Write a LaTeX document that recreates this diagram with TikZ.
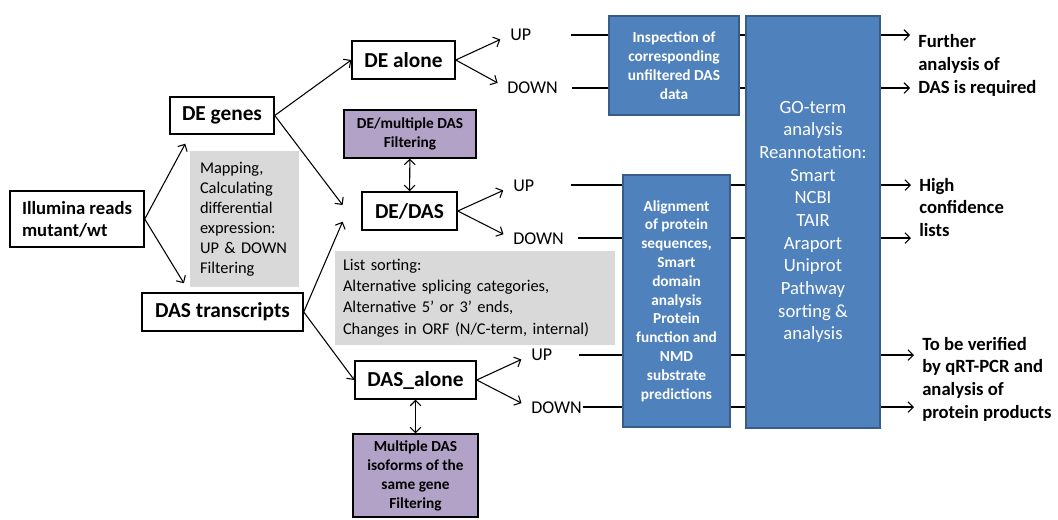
\documentclass[tikz,border=0pt]{standalone}
\usepackage{fontspec}
\setmainfont{Carlito}
\usetikzlibrary{arrows.meta, positioning, calc}
\definecolor{boxblue}{HTML}{4F81BD}
\definecolor{boxblueline}{HTML}{385D8A}
\definecolor{boxpurple}{HTML}{B3A2C7}
\definecolor{boxgray}{HTML}{D9D9D9}

\begin{document}
\begin{tikzpicture}[x=0.75pt, y=-0.75pt, >={Straight Barb[length=4pt,width=8pt]},
    every node/.style={inner sep=0pt},
    whitebox/.style={draw, line width=1.1pt, fill=white, align=center, font=\fontsize{16}{19}\selectfont\bfseries},
    purplebox/.style={draw, line width=1pt, fill=boxpurple, align=center, font=\fontsize{11.5}{14.2}\selectfont\bfseries},
    graybox/.style={fill=boxgray, align=left, font=\fontsize{12.3}{15}\selectfont},
    bluebox/.style={draw=boxblueline, line width=1.5pt, fill=boxblue, text=white, align=center},
    updown/.style={anchor=west, font=\fontsize{13.5}{16}\selectfont},
    result/.style={anchor=west, align=left, font=\fontsize{14}{17}\selectfont\bfseries},
    arr/.style={->, line width=0.8pt},
    link/.style={line width=0.8pt}]

        \useasboundingbox (0,0) rectangle (1058,519);

        % Nodes
        \node (ill) [whitebox, align=left, font=\fontsize{14}{16.5}\selectfont\bfseries,
            minimum width=100.5pt, minimum height=42pt] at (77,219) {Illumina reads\\mutant/wt};
        \node (deg) [whitebox, minimum width=78pt, minimum height=27.75pt] at (222,115.5) {DE genes};
        \node (map) [graybox, text width=66.75pt, inner xsep=7.5pt, minimum height=102pt] at (244.5,219)
            {Mapping,\\Calculating\\differential\\expression:\\UP \& DOWN\\Filtering};
        \node (dast) [whitebox, minimum width=120.75pt, minimum height=28.5pt] at (222.5,312) {DAS transcripts};

        \node (dea) [whitebox, minimum width=77.25pt, minimum height=28.5pt] at (403.5,60) {DE alone};
        \node (pur1) [purplebox, minimum width=99pt, minimum height=36pt] at (410,134) {DE/multiple DAS\\Filtering};
        \node (dedas) [whitebox, minimum width=71.25pt, minimum height=28.5pt] at (409.5,211) {DE/DAS};
        \node (list) [graybox, font=\fontsize{12.3}{15.9}\selectfont, text width=198pt, inner xsep=6pt,
            minimum height=70.5pt] at (475,298)
            {List sorting:\\Alternative splicing categories,\\Alternative 5’ or 3’ ends,\\Changes in ORF (N/C-term, internal)};
        \node (dasa) [whitebox, minimum width=90.75pt, minimum height=28.5pt] at (415.5,380) {DAS\_alone};
        \node (pur2) [purplebox, minimum width=93.75pt, minimum height=62.25pt] at (415.5,475.5)
            {Multiple DAS\\isoforms of the\\same gene\\Filtering};

        \node (up1) [updown] at (510,35) {UP};
        \node (dn1) [updown] at (507,88) {DOWN};
        \node (up2) [updown] at (513,186) {UP};
        \node (dn2) [updown] at (513,239) {DOWN};
        \node (up3) [updown] at (531,355) {UP};
        \node (dn3) [updown] at (531,408) {DOWN};

        \node (insp) [bluebox, font=\fontsize{11.5}{14.25}\selectfont\bfseries,
            minimum width=97.5pt, minimum height=74.25pt] at (674,65.5)
            {Inspection of\\corresponding\\unfiltered DAS\\data};
        \node (aln) [bluebox, font=\fontsize{11.5}{14.1}\selectfont\bfseries,
            minimum width=80.25pt, minimum height=189pt] at (676.5,301)
            {Alignment\\of protein\\sequences,\\Smart\\domain\\analysis\\Protein\\function and\\NMD\\substrate\\predictions};
        \node (go) [bluebox, font=\fontsize{14}{17}\selectfont,
            minimum width=100.5pt, minimum height=309pt] at (813,222)
            {GO-term\\analysis\\Reannotation:\\Smart\\NCBI\\TAIR\\Araport\\Uniprot\\Pathway\\sorting \&\\analysis};

        \node (fur) [result] at (918,65.5) {Further\\analysis of\\DAS is required};
        \node (hi) [result] at (919,207.5) {High\\confidence\\lists};
        \node (tbv) [result] at (922,379) {To be verified\\by qRT-PCR and\\analysis of\\protein products};

        \coordinate (s1) at (571,35);
        \coordinate (s2) at (572,88);
        \coordinate (s3) at (571,185);
        \coordinate (s4) at (578,238);
        \coordinate (s5) at (579,355);
        \coordinate (s6) at (583,407);

        % Arrows
        \draw[arr] (ill.east) -- ([xshift=12pt,yshift=-6.75pt]deg.south west);
        \draw[arr] (ill.east) -- ([xshift=32pt,yshift=6.75pt]dast.north west);
        \draw[arr] (deg.east) -- (dea.west);
        \draw[arr] (deg.east) -- ([xshift=-14pt,yshift=4.5pt]dedas.west);
        \draw[arr] (dast.east) -- ([xshift=-14pt,yshift=-8pt]dedas.west);
        \draw[arr] (dast.east) -- (dasa.west);

        \draw[<->, line width=0.8pt] (pur1) -- (dedas);
        \draw[<->, line width=0.8pt] (dasa) -- (pur2);

        \foreach \from/\a/\b in {dea/up1/dn1, dedas/up2/dn2, dasa/up3/dn3} {
            \draw[arr, shorten >=8pt] (\from.east) -- (\a.west);
            \draw[arr, shorten >=8pt] (\from.east) -- (\b.west);
        }

        \foreach \s/\b in {s1/insp, s2/insp, s3/aln, s4/aln, s5/aln, s6/aln} {
            \draw[link] (\s) -- (\s -| \b.west);
            \draw[link] (\s -| \b.east) -- (\s -| go.west);
        }

        \foreach \s/\r in {s1/fur, s2/fur, s3/hi, s4/hi, s5/tbv, s6/tbv}
            \draw[arr, shorten >=6pt] (\s -| go.east) -- (\s -| \r.west);

      \end{tikzpicture}
\end{document}
